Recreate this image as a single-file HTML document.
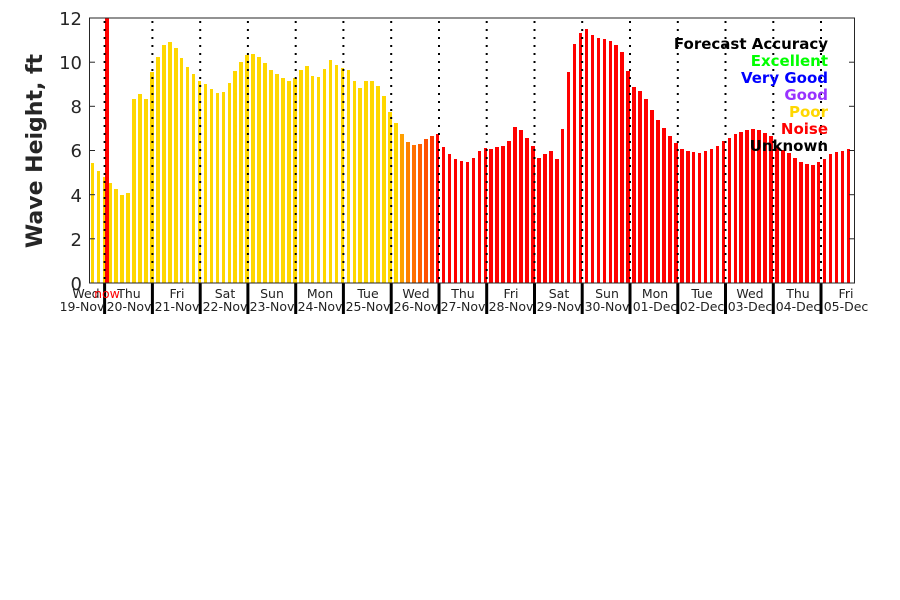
<!DOCTYPE html>
<html><head><meta charset="utf-8"><style>
html,body{margin:0;padding:0;background:#fff;width:900px;height:600px;overflow:hidden;position:relative}
#bars{position:absolute;left:90.6px;top:18px;height:265px;display:flex;align-items:flex-end;gap:2.37px}
#bars i{display:block;width:3.6px;background:#ff0000;flex:none}
#bars i.y{background:#ffd700}
svg{position:absolute;left:0;top:0;display:block;font-family:"DejaVu Sans","Liberation Sans",sans-serif}
</style></head><body>
<div id="bars">
<i class="y" style="height:calc(22.08px*5.43)"></i><i class="y" style="height:calc(22.08px*5.07)"></i><i class="y" style="height:calc(22.08px*4.81)"></i><i class="y" style="height:calc(22.08px*4.53)"></i><i class="y" style="height:calc(22.08px*4.26)"></i><i class="y" style="height:calc(22.08px*3.99)"></i><i class="y" style="height:calc(22.08px*4.08)"></i><i class="y" style="height:calc(22.08px*8.33)"></i>
<i class="y" style="height:calc(22.08px*8.56)"></i><i class="y" style="height:calc(22.08px*8.33)"></i><i class="y" style="height:calc(22.08px*9.56)"></i><i class="y" style="height:calc(22.08px*10.24)"></i><i class="y" style="height:calc(22.08px*10.78)"></i><i class="y" style="height:calc(22.08px*10.91)"></i><i class="y" style="height:calc(22.08px*10.64)"></i><i class="y" style="height:calc(22.08px*10.19)"></i>
<i class="y" style="height:calc(22.08px*9.78)"></i><i class="y" style="height:calc(22.08px*9.47)"></i><i class="y" style="height:calc(22.08px*9.15)"></i><i class="y" style="height:calc(22.08px*9.01)"></i><i class="y" style="height:calc(22.08px*8.79)"></i><i class="y" style="height:calc(22.08px*8.6)"></i><i class="y" style="height:calc(22.08px*8.65)"></i><i class="y" style="height:calc(22.08px*9.06)"></i>
<i class="y" style="height:calc(22.08px*9.6)"></i><i class="y" style="height:calc(22.08px*10.0)"></i><i class="y" style="height:calc(22.08px*10.33)"></i><i class="y" style="height:calc(22.08px*10.35)"></i><i class="y" style="height:calc(22.08px*10.24)"></i><i class="y" style="height:calc(22.08px*9.96)"></i><i class="y" style="height:calc(22.08px*9.65)"></i><i class="y" style="height:calc(22.08px*9.47)"></i>
<i class="y" style="height:calc(22.08px*9.29)"></i><i class="y" style="height:calc(22.08px*9.15)"></i><i class="y" style="height:calc(22.08px*9.29)"></i><i class="y" style="height:calc(22.08px*9.65)"></i><i class="y" style="height:calc(22.08px*9.83)"></i><i class="y" style="height:calc(22.08px*9.38)"></i><i class="y" style="height:calc(22.08px*9.33)"></i><i class="y" style="height:calc(22.08px*9.69)"></i>
<i class="y" style="height:calc(22.08px*10.1)"></i><i class="y" style="height:calc(22.08px*9.87)"></i><i class="y" style="height:calc(22.08px*9.74)"></i><i class="y" style="height:calc(22.08px*9.65)"></i><i class="y" style="height:calc(22.08px*9.15)"></i><i class="y" style="height:calc(22.08px*8.83)"></i><i class="y" style="height:calc(22.08px*9.15)"></i><i class="y" style="height:calc(22.08px*9.15)"></i>
<i class="y" style="height:calc(22.08px*8.92)"></i><i class="y" style="height:calc(22.08px*8.47)"></i><i class="y" style="height:calc(22.08px*7.74)"></i><i class="y" style="height:calc(22.08px*7.25)"></i><i style="background:#ffa000;height:calc(22.08px*6.75)"></i><i style="background:#ff8000;height:calc(22.08px*6.39)"></i><i style="background:#ff7000;height:calc(22.08px*6.25)"></i><i style="background:#ff6000;height:calc(22.08px*6.3)"></i>
<i style="background:#ff5000;height:calc(22.08px*6.52)"></i><i style="background:#ff3a00;height:calc(22.08px*6.66)"></i><i style="height:calc(22.08px*6.75)"></i><i style="height:calc(22.08px*6.16)"></i><i style="height:calc(22.08px*5.84)"></i><i style="height:calc(22.08px*5.61)"></i><i style="height:calc(22.08px*5.52)"></i><i style="height:calc(22.08px*5.48)"></i>
<i style="height:calc(22.08px*5.66)"></i><i style="height:calc(22.08px*5.98)"></i><i style="height:calc(22.08px*6.11)"></i><i style="height:calc(22.08px*6.07)"></i><i style="height:calc(22.08px*6.16)"></i><i style="height:calc(22.08px*6.2)"></i><i style="height:calc(22.08px*6.43)"></i><i style="height:calc(22.08px*7.07)"></i>
<i style="height:calc(22.08px*6.93)"></i><i style="height:calc(22.08px*6.57)"></i><i style="height:calc(22.08px*6.2)"></i><i style="height:calc(22.08px*5.66)"></i><i style="height:calc(22.08px*5.84)"></i><i style="height:calc(22.08px*5.98)"></i><i style="height:calc(22.08px*5.61)"></i><i style="height:calc(22.08px*6.97)"></i>
<i style="height:calc(22.08px*9.56)"></i><i style="height:calc(22.08px*10.82)"></i><i style="height:calc(22.08px*11.32)"></i><i style="height:calc(22.08px*11.5)"></i><i style="height:calc(22.08px*11.23)"></i><i style="height:calc(22.08px*11.1)"></i><i style="height:calc(22.08px*11.05)"></i><i style="height:calc(22.08px*10.96)"></i>
<i style="height:calc(22.08px*10.78)"></i><i style="height:calc(22.08px*10.46)"></i><i style="height:calc(22.08px*9.6)"></i><i style="height:calc(22.08px*8.88)"></i><i style="height:calc(22.08px*8.7)"></i><i style="height:calc(22.08px*8.33)"></i><i style="height:calc(22.08px*7.83)"></i><i style="height:calc(22.08px*7.38)"></i>
<i style="height:calc(22.08px*7.02)"></i><i style="height:calc(22.08px*6.66)"></i><i style="height:calc(22.08px*6.34)"></i><i style="height:calc(22.08px*6.07)"></i><i style="height:calc(22.08px*6.0)"></i><i style="height:calc(22.08px*5.93)"></i><i style="height:calc(22.08px*5.88)"></i><i style="height:calc(22.08px*5.98)"></i>
<i style="height:calc(22.08px*6.07)"></i><i style="height:calc(22.08px*6.2)"></i><i style="height:calc(22.08px*6.43)"></i><i style="height:calc(22.08px*6.57)"></i><i style="height:calc(22.08px*6.75)"></i><i style="height:calc(22.08px*6.84)"></i><i style="height:calc(22.08px*6.93)"></i><i style="height:calc(22.08px*6.97)"></i>
<i style="height:calc(22.08px*6.93)"></i><i style="height:calc(22.08px*6.8)"></i><i style="height:calc(22.08px*6.66)"></i><i style="height:calc(22.08px*6.2)"></i><i style="height:calc(22.08px*6.02)"></i><i style="height:calc(22.08px*5.88)"></i><i style="height:calc(22.08px*5.66)"></i><i style="height:calc(22.08px*5.48)"></i>
<i style="height:calc(22.08px*5.39)"></i><i style="height:calc(22.08px*5.34)"></i><i style="height:calc(22.08px*5.48)"></i><i style="height:calc(22.08px*5.61)"></i><i style="height:calc(22.08px*5.84)"></i><i style="height:calc(22.08px*5.93)"></i><i style="height:calc(22.08px*5.98)"></i><i style="height:calc(22.08px*6.07)"></i>
</div>
<svg width="900" height="600" viewBox="0 0 900 600" xmlns="http://www.w3.org/2000/svg">
<rect x="105" y="18" width="4" height="265" fill="#ff0000"/>
<g stroke="#000" stroke-width="2" stroke-dasharray="2 6">
<line x1="104.6" y1="21" x2="104.6" y2="283"/><line x1="152.4" y1="21" x2="152.4" y2="283"/><line x1="200.2" y1="21" x2="200.2" y2="283"/><line x1="247.9" y1="21" x2="247.9" y2="283"/>
<line x1="295.7" y1="21" x2="295.7" y2="283"/><line x1="343.4" y1="21" x2="343.4" y2="283"/><line x1="391.2" y1="21" x2="391.2" y2="283"/><line x1="439" y1="21" x2="439" y2="283"/>
<line x1="486.7" y1="21" x2="486.7" y2="283"/><line x1="534.5" y1="21" x2="534.5" y2="283"/><line x1="582.2" y1="21" x2="582.2" y2="283"/><line x1="630" y1="21" x2="630" y2="283"/>
<line x1="677.8" y1="21" x2="677.8" y2="283"/><line x1="725.5" y1="21" x2="725.5" y2="283"/><line x1="773.3" y1="21" x2="773.3" y2="283"/><line x1="821" y1="21" x2="821" y2="283"/>
</g>
<g stroke="#000" stroke-width="3">
<line x1="104.6" y1="283" x2="104.6" y2="314"/><line x1="152.4" y1="283" x2="152.4" y2="314"/><line x1="200.2" y1="283" x2="200.2" y2="314"/><line x1="247.9" y1="283" x2="247.9" y2="314"/>
<line x1="295.7" y1="283" x2="295.7" y2="314"/><line x1="343.4" y1="283" x2="343.4" y2="314"/><line x1="391.2" y1="283" x2="391.2" y2="314"/><line x1="439" y1="283" x2="439" y2="314"/>
<line x1="486.7" y1="283" x2="486.7" y2="314"/><line x1="534.5" y1="283" x2="534.5" y2="314"/><line x1="582.2" y1="283" x2="582.2" y2="314"/><line x1="630" y1="283" x2="630" y2="314"/>
<line x1="677.8" y1="283" x2="677.8" y2="314"/><line x1="725.5" y1="283" x2="725.5" y2="314"/><line x1="773.3" y1="283" x2="773.3" y2="314"/><line x1="821" y1="283" x2="821" y2="314"/>
</g>
<rect x="89.5" y="18" width="765" height="265" fill="none" stroke="#262626" stroke-width="1"/>
<g stroke="#262626" stroke-width="1">
<line x1="90" y1="238.8" x2="95" y2="238.8"/><line x1="90" y1="194.7" x2="95" y2="194.7"/><line x1="90" y1="150.5" x2="95" y2="150.5"/><line x1="90" y1="106.3" x2="95" y2="106.3"/><line x1="90" y1="62.2" x2="95" y2="62.2"/>
<line x1="849" y1="238.8" x2="854" y2="238.8"/><line x1="849" y1="194.7" x2="854" y2="194.7"/><line x1="849" y1="150.5" x2="854" y2="150.5"/><line x1="849" y1="106.3" x2="854" y2="106.3"/><line x1="849" y1="62.2" x2="854" y2="62.2"/>
</g>
<g font-size="18" fill="#262626" text-anchor="end">
<text x="82" y="290">0</text><text x="82" y="246">2</text><text x="82" y="202">4</text><text x="82" y="157">6</text><text x="82" y="113">8</text><text x="82" y="69">10</text><text x="82" y="25">12</text>
</g>
<text transform="translate(42,151) rotate(-90)" font-size="22" font-weight="bold" fill="#262626" text-anchor="middle">Wave Height, ft</text>
<g font-size="12.5" fill="#222" text-anchor="middle">
<text x="86" y="298">Wed</text><text x="82" y="311">19-Nov</text>
<text x="129" y="298">Thu</text><text x="129" y="311">20-Nov</text>
<text x="177" y="298">Fri</text><text x="177" y="311">21-Nov</text>
<text x="225" y="298">Sat</text><text x="225" y="311">22-Nov</text>
<text x="272" y="298">Sun</text><text x="272" y="311">23-Nov</text>
<text x="320" y="298">Mon</text><text x="320" y="311">24-Nov</text>
<text x="368" y="298">Tue</text><text x="368" y="311">25-Nov</text>
<text x="416" y="298">Wed</text><text x="416" y="311">26-Nov</text>
<text x="463" y="298">Thu</text><text x="463" y="311">27-Nov</text>
<text x="511" y="298">Fri</text><text x="511" y="311">28-Nov</text>
<text x="559" y="298">Sat</text><text x="559" y="311">29-Nov</text>
<text x="607" y="298">Sun</text><text x="607" y="311">30-Nov</text>
<text x="655" y="298">Mon</text><text x="655" y="311">01-Dec</text>
<text x="702" y="298">Tue</text><text x="702" y="311">02-Dec</text>
<text x="750" y="298">Wed</text><text x="750" y="311">03-Dec</text>
<text x="798" y="298">Thu</text><text x="798" y="311">04-Dec</text>
<text x="846" y="298">Fri</text><text x="846" y="311">05-Dec</text>
</g>
<text x="107" y="298" font-size="12.5" fill="#ff0000" text-anchor="middle">now</text>
<g font-size="15" font-weight="bold" text-anchor="end">
<text x="828" y="49" fill="#000">Forecast Accuracy</text>
<text x="828" y="66" fill="#00ff00">Excellent</text>
<text x="828" y="83" fill="#0000ff">Very Good</text>
<text x="828" y="100" fill="#9933ff">Good</text>
<text x="828" y="117" fill="#ffd700">Poor</text>
<text x="828" y="134" fill="#ff0000">Noise</text>
<text x="828" y="151" fill="#000">Unknown</text>
</g>
</svg>
</body></html>
